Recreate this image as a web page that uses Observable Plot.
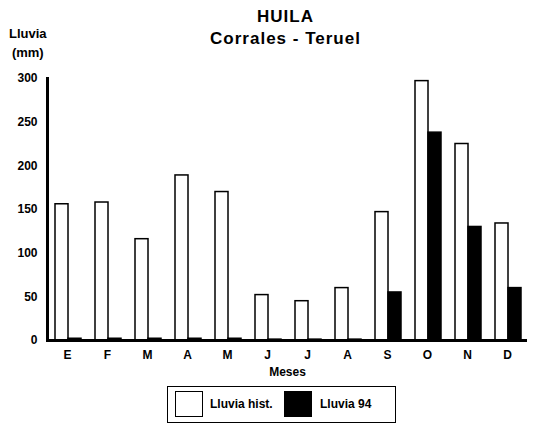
<!DOCTYPE html>
<html>
<head>
<meta charset="utf-8">
<script src="https://cdn.jsdelivr.net/npm/d3@7"></script>
<script src="https://cdn.jsdelivr.net/npm/@observablehq/plot@0.6"></script>
<style>
  html, body { margin: 0; padding: 0; background: #fff; }
  body { width: 533px; height: 425px; position: relative; overflow: hidden;
         font-family: "Liberation Sans", Arial, sans-serif; font-weight: bold; color: #000; }
  .abs { position: absolute; white-space: nowrap; }
  #chart { position: absolute; left: 0; top: 0; }
  #chart svg { display: block; }
  #title { left: 0; width: 571px; top: 6px; text-align: center; font-size: 17px; letter-spacing: 1px; line-height: 22px; }
  #ylab { left: 9px; top: 24px; font-size: 13px; line-height: 19px; text-align: center; }
  #legend { left: 167px; top: 386px; width: 229px; height: 37px; border: 1.5px solid #000; box-sizing: border-box; }
  .sw { position: absolute; top: 4px; width: 28px; height: 26px; border: 1.5px solid #000; box-sizing: border-box; }
  .lt { position: absolute; top: 10px; font-size: 12px; }
</style>
</head>
<body>
<div id="chart"></div>
<div id="title" class="abs"></div>
<div id="ylab" class="abs"></div>
<div id="legend" class="abs"></div>
<script>
const titleLines = ["HUILA", "Corrales - Teruel"];
const yLabelLines = ["Lluvia", "(mm)"];
const xLabel = "Meses";
const months = ["E", "F", "M", "A", "M", "J", "J", "A", "S", "O", "N", "D"];
const series = ["Lluvia hist.", "Lluvia 94"];
const lluviaHist = [156, 158, 116, 189, 170, 52, 45, 60, 147, 297, 225, 134];
const lluvia94 = [2, 2, 2, 2, 2, 1, 1, 1, 55, 238, 130, 60];
const yTicks = [0, 50, 100, 150, 200, 250, 300];
const seriesColors = ["#ffffff", "#000000"];

const data = months.flatMap((m, i) => [
  {i, s: series[0], v: lluviaHist[i]},
  {i, s: series[1], v: lluvia94[i]}
]);

const chart = Plot.plot({
  width: 533,
  height: 382,
  marginTop: 78,
  marginBottom: 42,
  marginLeft: 45,
  marginRight: 4,
  style: {fontFamily: "'Liberation Sans', Arial, sans-serif", fontWeight: "bold", fontSize: "12px", color: "#000", background: "transparent"},
  fx: {domain: d3.range(12), padding: 0},
  x: {domain: series, paddingInner: 0, paddingOuter: 0.53, align: 0.55, axis: null},
  y: {domain: [0, 300]},
  color: {domain: series, range: seriesColors},
  marks: [
    Plot.axisY({ticks: yTicks, tickSize: 0, tickPadding: 10, label: null}),
    Plot.axisFx({anchor: "bottom", tickSize: 0, tickPadding: 10, tickFormat: i => months[i], label: xLabel, labelAnchor: "center", labelOffset: 35}),
    Plot.barY(data, {fx: "i", x: "s", y: "v", fill: "s", stroke: "#000", strokeWidth: 1.5}),
    Plot.ruleY([0], {strokeWidth: 3}),
    Plot.frame({anchor: "left", strokeWidth: 3, facet: "super"})
  ]
});
document.getElementById("chart").append(chart);

document.getElementById("title").innerHTML = titleLines.join("<br>");
document.getElementById("ylab").innerHTML = yLabelLines.join("<br>");
const lg = document.getElementById("legend");
const swLeft = [7, 116], txLeft = [42, 152];
series.forEach((s, k) => {
  const sw = document.createElement("div");
  sw.className = "sw";
  sw.style.left = swLeft[k] + "px";
  sw.style.background = seriesColors[k];
  lg.append(sw);
  const t = document.createElement("div");
  t.className = "lt";
  t.style.left = txLeft[k] + "px";
  t.textContent = s;
  lg.append(t);
});
</script>
</body>
</html>
